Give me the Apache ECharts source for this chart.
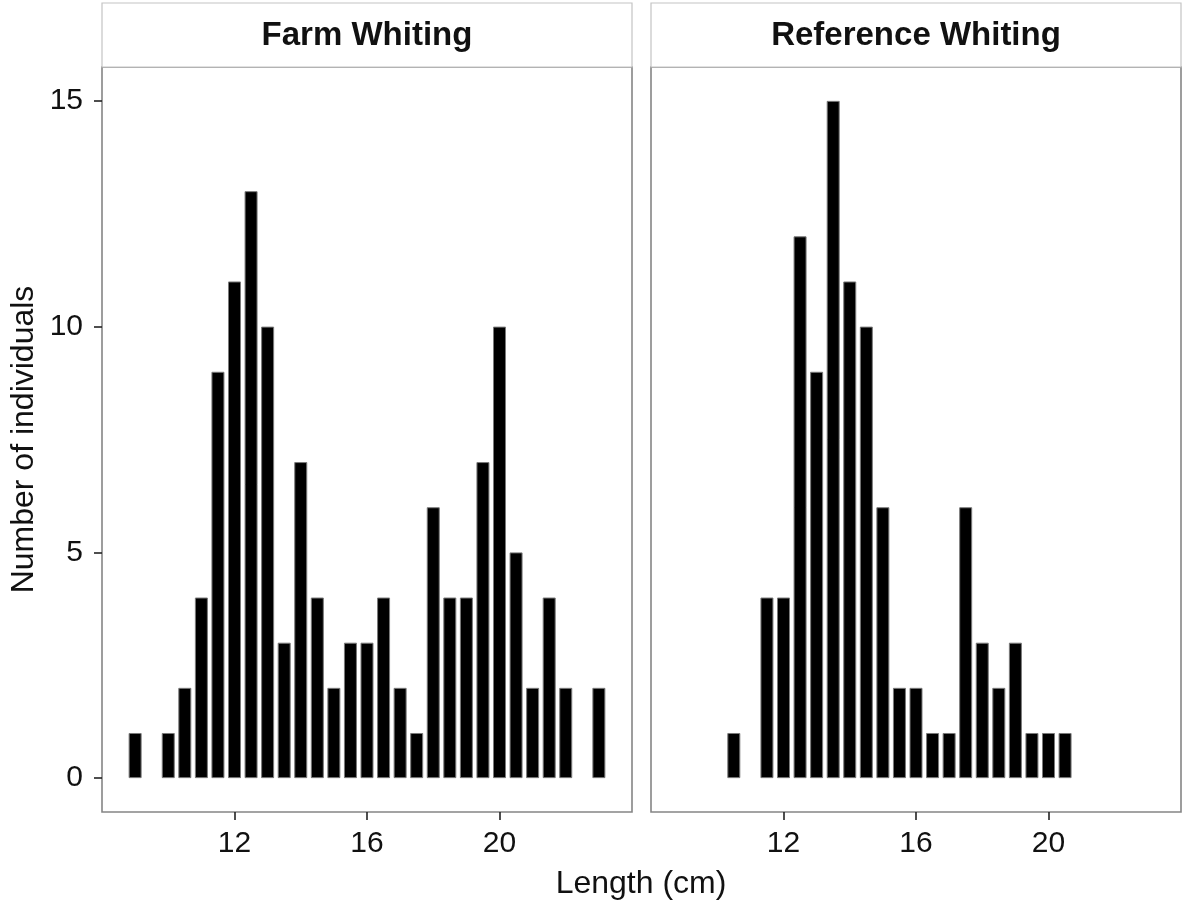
<!DOCTYPE html>
<html>
<head>
<meta charset="utf-8">
<script src="https://cdn.jsdelivr.net/npm/echarts@6/dist/echarts.min.js"></script>
<style>
  html, body { margin: 0; padding: 0; background: #fff; }
  #chart { width: 1183px; height: 904px; }
</style>
</head>
<body>
<div id="chart"></div>
<script>
// Length-frequency of whiting, 0.5 cm bins
const panelTitles = ['Farm Whiting', 'Reference Whiting'];

const farmLength = [9, 10, 10.5, 11, 11.5, 12, 12.5, 13, 13.5, 14, 14.5, 15, 15.5, 16,
                    16.5, 17, 17.5, 18, 18.5, 19, 19.5, 20, 20.5, 21, 21.5, 22, 23];
const farmCount  = [1, 1, 2, 4, 9, 11, 13, 10, 3, 7, 4, 2, 3, 3,
                    4, 2, 1, 6, 4, 4, 7, 10, 5, 2, 4, 2, 2];

const refLength = [10.5, 11.5, 12, 12.5, 13, 13.5, 14, 14.5, 15, 15.5,
                   16, 16.5, 17, 17.5, 18, 18.5, 19, 19.5, 20, 20.5];
const refCount  = [1, 4, 4, 12, 9, 15, 11, 10, 6, 2,
                   2, 1, 1, 6, 3, 2, 3, 1, 1, 1];

const xTicks = [12, 16, 20];
const yTicks = [0, 5, 10, 15];

const xTitle = 'Length (cm)';
const yTitle = 'Number of individuals';

const FONT = '"Liberation Sans", Arial, Helvetica, sans-serif';
const TEXT = '#111';

const panels = [
  { left: 102, lengths: farmLength, counts: farmCount },
  { left: 651, lengths: refLength, counts: refCount }
];
const PANEL_W = 530, PANEL_TOP = 67, PANEL_H = 745;
const STRIP_TOP = 3, STRIP_H = 64;

const grids = [], xAxes = [], yAxes = [], series = [], graphics = [];

panels.forEach((p, i) => {
  grids.push({
    left: p.left, top: PANEL_TOP, width: PANEL_W, height: PANEL_H,
    show: true, borderColor: '#858585', borderWidth: 1.6, backgroundColor: '#fff'
  });
  xAxes.push({
    type: 'value', gridIndex: i, min: 8, max: 24, position: 'bottom',
    axisLine: { show: false, onZero: false },
    splitLine: { show: false },
    axisTick: { show: true, customValues: xTicks, length: 8,
                lineStyle: { color: '#222', width: 1.6 } },
    axisLabel: { show: true, customValues: xTicks, margin: 17,
                 fontFamily: FONT, fontSize: 30, color: TEXT }
  });
  yAxes.push({
    type: 'value', gridIndex: i, min: -0.75, max: 15.75, position: 'left',
    axisLine: { show: false, onZero: false },
    splitLine: { show: false },
    axisTick: { show: i === 0, customValues: yTicks, length: 8,
                lineStyle: { color: '#222', width: 1.6 } },
    axisLabel: { show: i === 0, customValues: yTicks, margin: 19,
                 fontFamily: FONT, fontSize: 30, color: TEXT },
    name: i === 0 ? yTitle : '',
    nameLocation: 'middle', nameGap: 62, nameRotate: 90,
    nameTextStyle: { fontFamily: FONT, fontSize: 32, color: TEXT }
  });
  series.push({
    type: 'bar', xAxisIndex: i, yAxisIndex: i,
    data: p.lengths.map((x, k) => [x, p.counts[k]]),
    barWidth: 13,
    itemStyle: { color: '#000', borderColor: '#7a7a7a', borderWidth: 1 },
    silent: true
  });
  // facet strip
  graphics.push({
    type: 'rect',
    shape: { x: p.left, y: STRIP_TOP, width: PANEL_W, height: STRIP_H },
    style: { fill: '#fff', stroke: '#c4c4c4', lineWidth: 1.2 },
    z: 0
  });
  graphics.push({
    type: 'text',
    x: p.left + PANEL_W / 2, y: STRIP_TOP + STRIP_H / 2 + 1,
    style: { text: panelTitles[i], fontFamily: FONT, fontSize: 33, fontWeight: 'bold',
             fill: TEXT, align: 'center', verticalAlign: 'middle' },
    z: 1
  });
});

// shared x-axis title
graphics.push({
  type: 'text',
  x: 641, y: 884,
  style: { text: xTitle, fontFamily: FONT, fontSize: 32, fill: TEXT,
           align: 'center', verticalAlign: 'middle' }
});

const chart = echarts.init(document.getElementById('chart'), null, { renderer: 'canvas' });
chart.setOption({
  animation: false,
  backgroundColor: '#fff',
  grid: grids,
  xAxis: xAxes,
  yAxis: yAxes,
  series: series,
  graphic: graphics
});
</script>
</body>
</html>
